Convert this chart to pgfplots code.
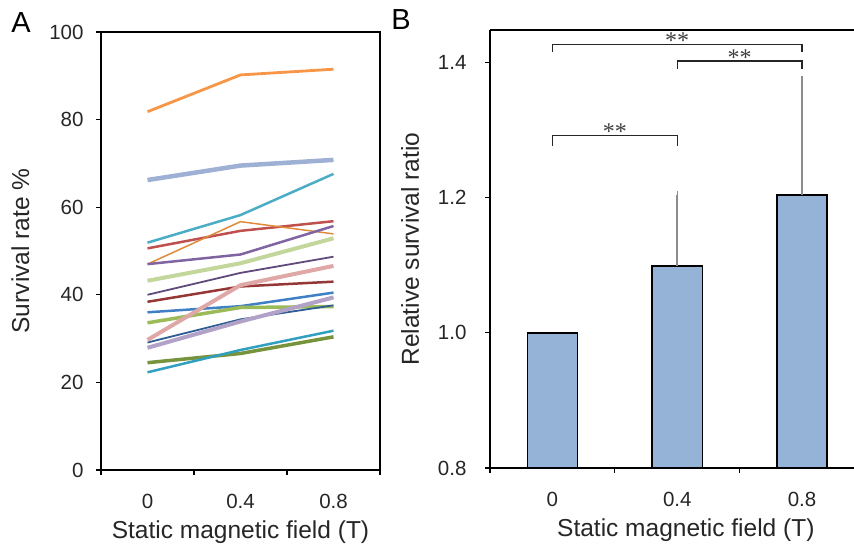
\documentclass[border=0pt]{standalone}
\usepackage{fontspec}
\setmainfont{Liberation Sans}
\newfontfamily\starfont{Liberation Serif}
\usepackage{pgfplots}
\pgfplotsset{compat=1.18}
\definecolor{cOrange}{HTML}{F79646}
\definecolor{cBlueGray}{HTML}{9FB0D5}
\definecolor{cTeal}{HTML}{4BACC6}
\definecolor{cRed}{HTML}{C0504D}
\definecolor{cOrangeThin}{HTML}{E08A3C}
\definecolor{cPurple}{HTML}{8064A2}
\definecolor{cLightGreen}{HTML}{C3D69B}
\definecolor{cDarkPurple}{HTML}{604A7B}
\definecolor{cPink}{HTML}{DFA8A7}
\definecolor{cDarkRed}{HTML}{953735}
\definecolor{cBlue}{HTML}{3F7FC4}
\definecolor{cGreen}{HTML}{9BBB59}
\definecolor{cDarkBlue}{HTML}{2E5C94}
\definecolor{cLavender}{HTML}{B3A2C7}
\definecolor{cOlive}{HTML}{77933C}
\definecolor{cTealTwo}{HTML}{31A0C0}
\definecolor{barfill}{HTML}{95B3D7}
\pgfplotsset{
  common/.style={
    scale only axis,
    height=438pt,
    tick align=outside,
    xtick pos=bottom, ytick pos=left,
    major tick length=5pt,
    tick style={black, line width=1.1pt},
    axis line style={line width=1.2pt},
    tick label style={font=\fontsize{20.5}{24}\selectfont, text=black!85},
    xticklabel style={yshift=-21pt},
    label style={font=\fontsize{24.5}{28}\selectfont, text=black!85},
    /pgf/number format/assume math mode=true,
    clip=false,
    xtick={-0.5,0.5,1.5,2.5},
    xticklabels={},
    extra x ticks={0,1,2},
    extra x tick labels={0,0.4,0.8},
    extra x tick style={major tick length=0pt, grid=none},
  }
}
\begin{document}
\begin{tikzpicture}
\begin{axis}[common,
  width=279pt, at={(101pt,75pt)}, anchor=south west,
  xmin=-0.5, xmax=2.5, ymin=0, ymax=100,
  ytick={0,20,40,60,80,100},
  yticklabel style={xshift=-9pt},
  ylabel={Survival rate \%},
  ylabel style={yshift=13pt},
  xlabel={Static magnetic field (T)},
]
\addplot[cOrange, line width=2.8pt] coordinates {(0,81.8) (1,90.2) (2,91.5)};
\addplot[cBlueGray, line width=4.5pt] coordinates {(0,66.2) (1,69.5) (2,70.8)};
\addplot[cTeal, line width=2.5pt] coordinates {(0,51.9) (1,58.2) (2,67.6)};
\addplot[cRed, line width=2.5pt] coordinates {(0,50.6) (1,54.6) (2,56.8)};
\addplot[cOrangeThin, line width=1.5pt] coordinates {(0,47.0) (1,56.7) (2,53.9)};
\addplot[cPurple, line width=2.5pt] coordinates {(0,47.0) (1,49.2) (2,55.7)};
\addplot[cLightGreen, line width=4pt] coordinates {(0,43.2) (1,47.2) (2,52.9)};
\addplot[cDarkPurple, line width=1.8pt] coordinates {(0,40.0) (1,45.0) (2,48.7)};
\addplot[cDarkRed, line width=2.5pt] coordinates {(0,38.4) (1,41.9) (2,43.0)};
\addplot[cBlue, line width=2.5pt] coordinates {(0,36.0) (1,37.4) (2,40.5)};
\addplot[cGreen, line width=3.5pt] coordinates {(0,33.6) (1,37.1) (2,37.3)};
\addplot[cDarkBlue, line width=1.8pt] coordinates {(0,29.1) (1,34.4) (2,37.6)};
\addplot[cPink, line width=4pt] coordinates {(0,29.7) (1,42.2) (2,46.6)};
\addplot[cLavender, line width=4pt] coordinates {(0,27.9) (1,33.9) (2,39.4)};
\addplot[cOlive, line width=3.5pt] coordinates {(0,24.5) (1,26.6) (2,30.4)};
\addplot[cTealTwo, line width=2.5pt] coordinates {(0,22.3) (1,27.4) (2,31.8)};
\end{axis}

\begin{axis}[common,
  width=364pt, at={(490pt,77pt)}, anchor=south west,
  xmin=-0.5, xmax=2.416, ymin=0.8, ymax=1.448,
  axis x line*=bottom, axis y line*=left,
  ytick={0.8,1.0,1.2,1.4},
  yticklabel style={xshift=-15pt, /pgf/number format/.cd, fixed, fixed zerofill, precision=1},
  ylabel={Relative survival ratio},
  ylabel style={yshift=12pt},
  xlabel={Static magnetic field (T)},
  xlabel style={at={(ticklabel cs:0.538)}},
]
\addplot[ybar, bar width=50pt, bar shift=0pt, fill=barfill, draw=black, line width=1.5pt]
  coordinates {(0,1.0)};
\addplot[ybar, bar width=50pt, bar shift=0pt, fill=barfill, draw=black, line width=1.5pt,
  error bars/.cd, y dir=plus, y explicit,
  error bar style={black!45, line width=1.7pt},
  error mark options={black!45, line width=1.5pt, mark size=3.5pt}]
  coordinates {(1,1.099) +- (0,0.105) (2,1.204) +- (0,0.171)};
\draw[line width=1.2pt] (rel axis cs:0,1) -- (rel axis cs:1,1);
\draw[line width=1.2pt, black!85] (axis cs:0,1.277) -- (axis cs:0,1.292) -- (axis cs:1,1.292) -- (axis cs:1,1.277);
\draw[line width=1.2pt, black!85] (axis cs:1,1.391) -- (axis cs:1,1.402) -- (axis cs:2,1.402) -- (axis cs:2,1.391);
\draw[line width=1.2pt, black!85] (axis cs:0,1.415) -- (axis cs:0,1.4265) -- (axis cs:2,1.4265) -- (axis cs:2,1.415);
\node[anchor=base, inner sep=0pt, yshift=-4pt, font=\starfont\fontsize{24}{25}\selectfont, text=black!75] at (axis cs:0.5,1.292) {**};
\node[anchor=base, inner sep=0pt, yshift=-4pt, font=\starfont\fontsize{24}{25}\selectfont, text=black!75] at (axis cs:1.5,1.402) {**};
\node[anchor=base, inner sep=0pt, yshift=-4pt, font=\starfont\fontsize{24}{25}\selectfont, text=black!75] at (axis cs:1,1.4265) {**};
\end{axis}

\node[font=\fontsize{29}{32}\selectfont, anchor=base] at (21pt,512pt) {A};
\node[font=\fontsize{29}{32}\selectfont, anchor=base] at (401pt,515pt) {B};

\pgfresetboundingbox
\path[use as bounding box] (0pt,0pt) rectangle (854pt,545pt);
\end{tikzpicture}
\end{document}
